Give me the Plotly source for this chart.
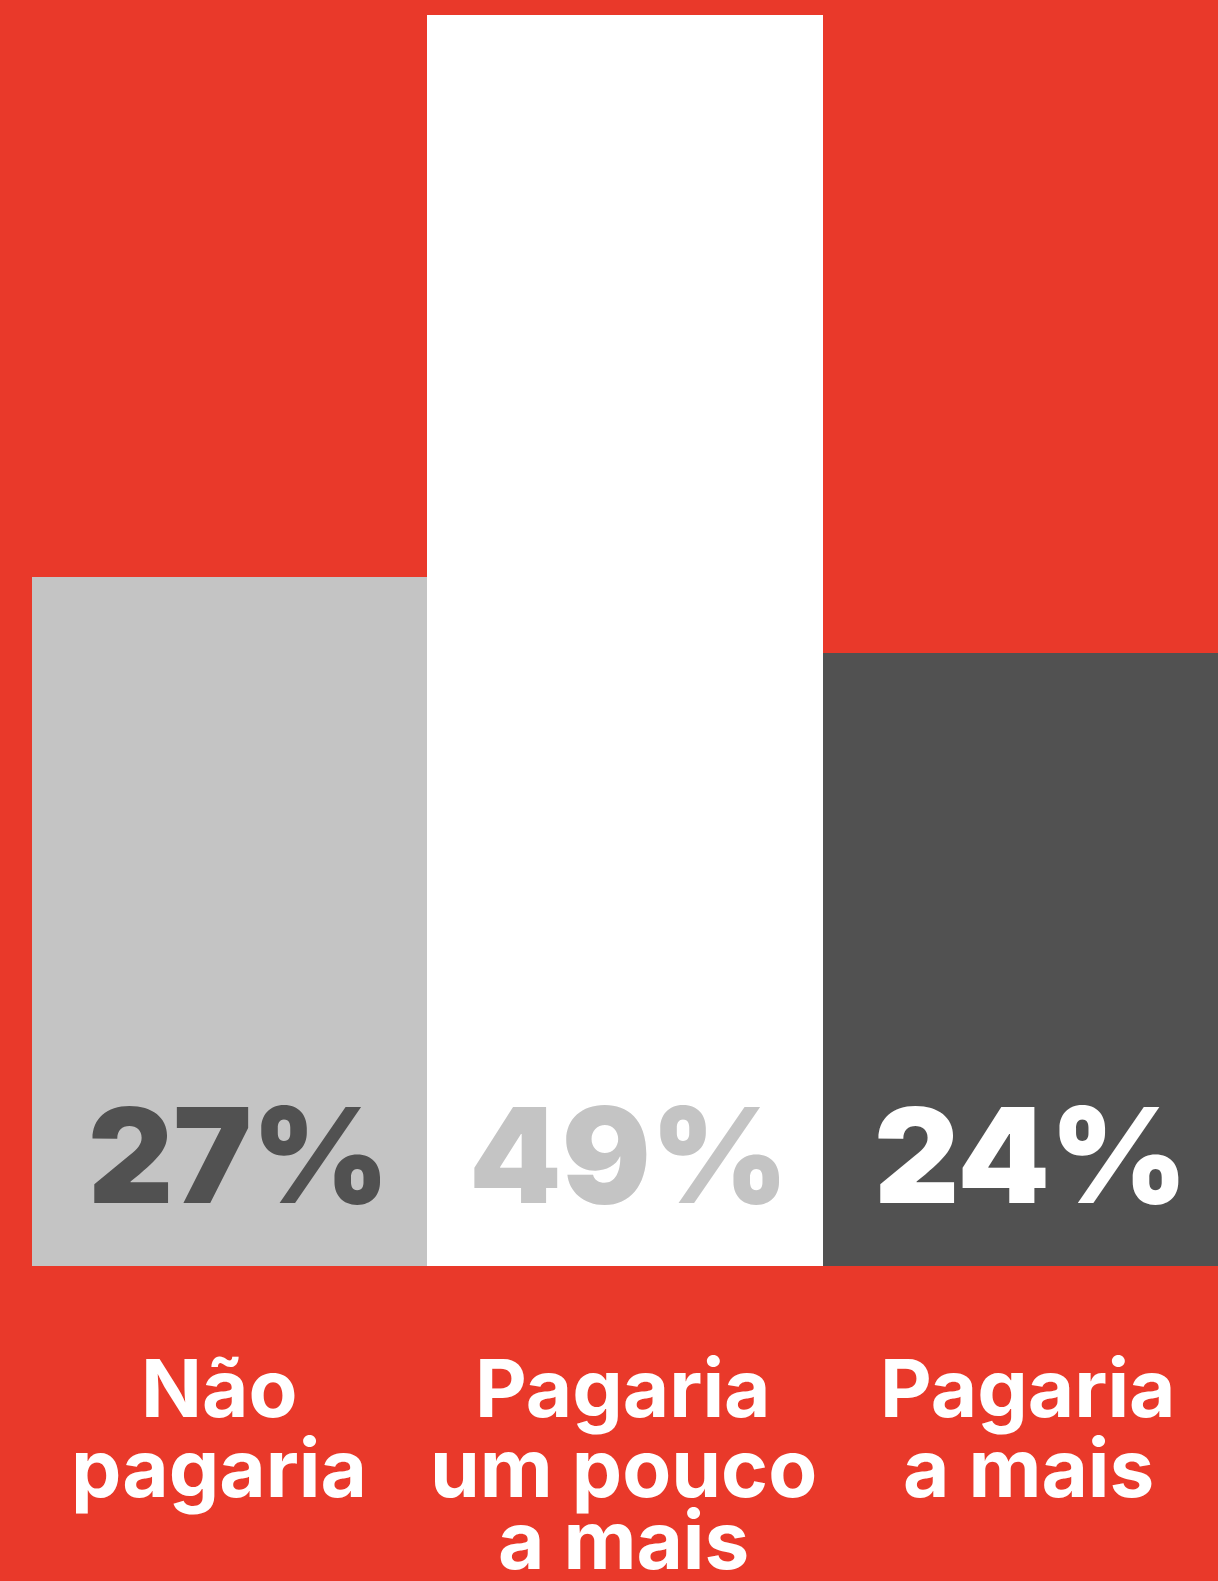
import plotly.graph_objects as go

categories = ["Não pagaria", "Pagaria um pouco a mais", "Pagaria a mais"]
label_lines = [["Não", "pagaria"], ["Pagaria", "um pouco", "a mais"], ["Pagaria", "a mais"]]
values = [27, 49, 24]
value_labels = ["27%", "49%", "24%"]

bar_colors = ["#C4C4C4", "#FFFFFF", "#515151"]
text_colors = ["#515151", "#C4C4C4", "#FFFFFF"]
RED = "#E9392A"

fig = go.Figure()
fig.add_trace(go.Bar(
    x=categories, y=values,
    marker=dict(color=bar_colors, line=dict(width=0)),
    width=1, hoverinfo="skip", showlegend=False,
))

annotations = []
pct_xshift = [9, 4, 11]
lab_xshift = [-11, -2, 8]
line_shift = [-121, -201, -273]
for i, cat in enumerate(categories):
    annotations.append(dict(
        x=cat, y=0, xref="x", yref="y", text=value_labels[i], showarrow=False,
        xanchor="center", yanchor="middle", xshift=pct_xshift[i], yshift=111,
        font=dict(family="Inter", size=132, color=text_colors[i], weight=900),
    ))
    for j, line in enumerate(label_lines[i]):
        annotations.append(dict(
            x=cat, y=0, xref="x", yref="y", text=line, showarrow=False,
            xanchor="center", yanchor="middle", xshift=lab_xshift[i], yshift=line_shift[j],
            font=dict(family="Inter", size=80, color="#FFFFFF", weight=700),
        ))

fig.update_layout(
    width=1218, height=1581,
    margin=dict(l=32, r=0, t=15, b=315, pad=0),
    paper_bgcolor=RED, plot_bgcolor=RED,
    bargap=0,
    xaxis=dict(showticklabels=False, showgrid=False, zeroline=False, showline=False,
               ticks="", range=[-0.5, 2.5], fixedrange=True),
    yaxis=dict(showticklabels=False, showgrid=False, zeroline=False, showline=False,
               ticks="", range=[0, 49], fixedrange=True),
    annotations=annotations,
)

fig.write_html("out.html", config={"displayModeBar": False},
               post_script="document.body.style.margin='0';document.body.style.background='" + RED + "';")
